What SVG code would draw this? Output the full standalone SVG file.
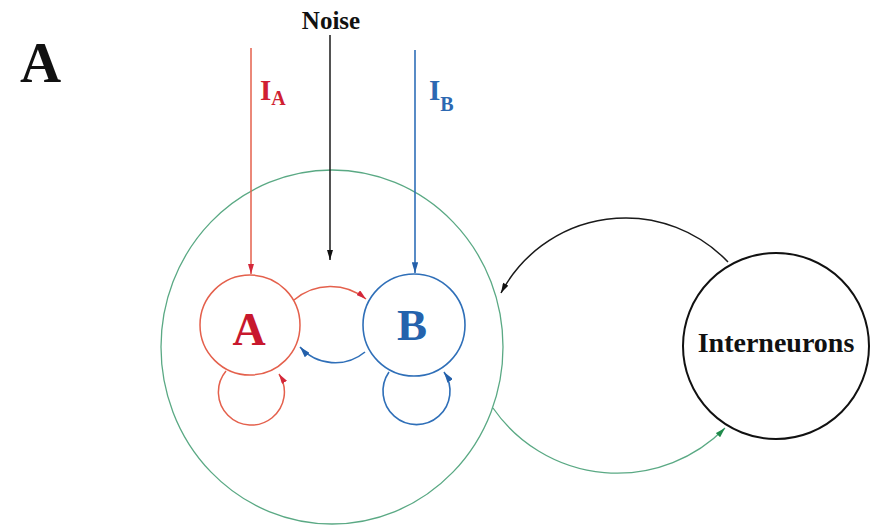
<svg xmlns="http://www.w3.org/2000/svg" width="873" height="526" viewBox="0 0 873 526">
<style>
  .t { font-family: "Liberation Serif", "Times New Roman", serif; font-weight: bold; }
  .red { stroke: #e4604c; fill: none; stroke-width: 1.5; }
  .blue { stroke: #2f6fb8; fill: none; stroke-width: 1.6; }
  .blk { stroke: #1a1a1a; fill: none; stroke-width: 1.5; }
  .grn { stroke: #5aa984; fill: none; stroke-width: 1.3; }
</style>
<defs>
  <marker id="mRed" viewBox="0 0 10 6" refX="10" refY="3" markerWidth="10" markerHeight="6" markerUnits="userSpaceOnUse" orient="auto"><path d="M0,0 L10,3 L0,6 z" fill="#d4283a"/></marker>
  <marker id="mBlue" viewBox="0 0 10 6" refX="10" refY="3" markerWidth="11" markerHeight="6.5" markerUnits="userSpaceOnUse" orient="auto"><path d="M0,0 L10,3 L0,6 z" fill="#2460aa"/></marker>
  <marker id="mBlk" viewBox="0 0 10 6" refX="10" refY="3" markerWidth="11" markerHeight="6" markerUnits="userSpaceOnUse" orient="auto"><path d="M0,0 L10,3 L0,6 z" fill="#111"/></marker>
  <marker id="mGrn" viewBox="0 0 10 6" refX="10" refY="3" markerWidth="11" markerHeight="6" markerUnits="userSpaceOnUse" orient="auto"><path d="M0,0 L10,3 L0,6 z" fill="#1f8a4a"/></marker>
</defs>
<rect width="873" height="526" fill="#fff"/>

<text class="t" x="20" y="82" font-size="57" fill="#111">A</text>

<g id="network">
  <ellipse cx="332" cy="347" rx="171" ry="177" class="grn"/>
</g>

<g id="nodeA">
  <circle cx="250" cy="325" r="50" class="red"/>
  <text class="t" x="249" y="345" font-size="46" fill="#c8182e" text-anchor="middle">A</text>
</g>

<g id="nodeB">
  <circle cx="414" cy="325" r="51" class="blue"/>
  <text class="t" x="412" y="340" font-size="45" fill="#2563ad" text-anchor="middle">B</text>
</g>

<g id="interneurons">
  <circle cx="776" cy="346" r="93" stroke="#111" stroke-width="2" fill="none"/>
  <text class="t" x="776" y="352" font-size="28" fill="#111" text-anchor="middle">Interneurons</text>
</g>

<g id="labels">
  <text class="t" x="331" y="29" font-size="25" fill="#111" text-anchor="middle">Noise</text>
  <text class="t" x="260" y="100" font-size="29" fill="#d01f33">I<tspan font-size="20" dy="5">A</tspan></text>
  <text class="t" x="429" y="100" font-size="29" fill="#2c68b2">I<tspan font-size="20" dy="11">B</tspan></text>
</g>

<g id="connectors">
  <line x1="251" y1="48" x2="251" y2="274" class="red" marker-end="url(#mRed)"/>
  <line x1="330" y1="35" x2="330" y2="260" class="blk" marker-end="url(#mBlk)"/>
  <line x1="415" y1="50" x2="415" y2="273" class="blue" marker-end="url(#mBlue)"/>
  <path d="M 294 300 A 56 56 0 0 1 366 299" class="red" stroke-width="1.3" marker-end="url(#mRed)"/>
  <path d="M 365 352 A 47 47 0 0 1 300 347" class="blue" marker-end="url(#mBlue)"/>
  <path d="M 226 371 A 33 33 0 1 0 279 374" class="red" marker-end="url(#mRed)"/>
  <path d="M 389 372 A 33.5 33.5 0 1 0 444 372" class="blue" marker-end="url(#mBlue)"/>
  <path d="M 728 262 A 141 141 0 0 0 501 293" class="blk" marker-end="url(#mBlk)"/>
  <path d="M 493 408 A 151 151 0 0 0 725 428" class="grn" marker-end="url(#mGrn)"/>
</g>
</svg>
